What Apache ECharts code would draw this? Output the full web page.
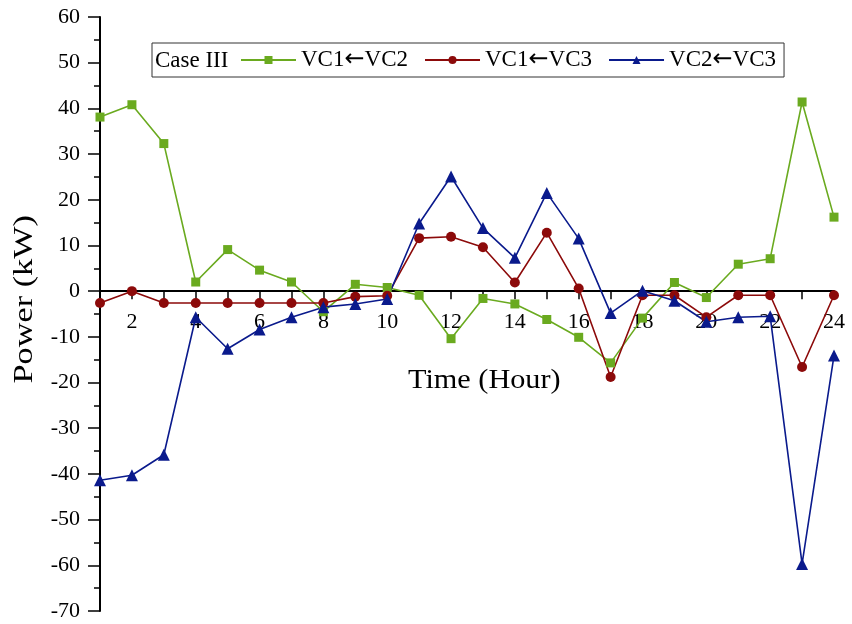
<!DOCTYPE html>
<html>
<head>
<meta charset="utf-8">
<script src="https://cdn.jsdelivr.net/npm/echarts@6/dist/echarts.min.js"></script>
<style>html,body{margin:0;padding:0;background:#fff}#c{width:852px;height:624px}</style>
</head>
<body>
<div id="c"></div>
<script>
const hours = ['1','2','3','4','5','6','7','8','9','10','11','12','13','14','15','16','17','18','19','20','21','22','23','24'];
const vc1FromVc2 = [38.1, 40.8, 32.3, 2.0, 9.1, 4.6, 2.0, -4.5, 1.5, 0.8, -0.9, -10.4, -1.6, -2.8, -6.2, -10.1, -15.7, -5.9, 1.9, -1.4, 5.9, 7.1, 41.4, 16.2];
const vc1FromVc3 = [-2.6, 0.0, -2.6, -2.6, -2.6, -2.6, -2.6, -2.6, -1.2, -1.0, 11.6, 11.9, 9.6, 1.9, 12.8, 0.6, -18.8, -0.9, -0.9, -5.7, -0.9, -0.9, -16.6, -0.9];
const vc2FromVc3 = [-41.4, -40.3, -35.8, -5.7, -12.6, -8.4, -5.7, -3.5, -2.8, -1.7, 14.8, 25.1, 13.8, 7.3, 21.5, 11.5, -4.8, 0.1, -2.1, -6.7, -5.7, -5.5, -59.7, -14.1];
const seriesNames = ['VC1\u2190VC2', 'VC1\u2190VC3', 'VC2\u2190VC3'];
const legendTitle = 'Case III';
const xTitle = 'Time (Hour)';
const yTitle = 'Power (kW)';
const yMin = -70, yMax = 60, yStep = 10;

const FONT = "'Liberation Serif', 'Times New Roman', serif";
const colors = ['#6aaa1f', '#8c0a0a', '#0a1a8c'];
const GRID_TOP = 17, GRID_BOTTOM = 13, H = 624;
const plotH = H - GRID_TOP - GRID_BOTTOM;
// distance from the bottom of the grid up to the zero line (layout only)
const zeroOffset = -plotH * (0 - yMin) / (yMax - yMin);

const chart = echarts.init(document.getElementById('c'));
const mk = (name, data, color, symbol, size) => ({
  name, type: 'line', data, symbol, symbolSize: size,
  itemStyle: { color }, lineStyle: { color, width: 1.6 },
  showSymbol: true, z: 3
});
chart.setOption({
  animation: false,
  backgroundColor: '#fff',
  color: colors,
  grid: { left: 100, right: 18, top: GRID_TOP, bottom: GRID_BOTTOM, containLabel: false, outerBoundsMode: 'none' },
  legend: {
    left: 152, top: 43,
    padding: [5, 8, 5, 88],
    borderColor: '#333', borderWidth: 1,
    itemWidth: 55, itemHeight: 10, itemGap: 16,
    formatter: n => { const p = n.split('\u2190'); return p[0] + '{a|\u2190}' + p[1]; },
    textStyle: {
      fontFamily: FONT, fontSize: 23, color: '#000',
      rich: { a: { fontFamily: "'DejaVu Sans'", fontSize: 24, color: '#000' } }
    },
    data: seriesNames
  },
  graphic: [
    { type: 'text', left: 155, top: 49,
      style: { text: legendTitle, font: "23px 'Liberation Serif'", fill: '#000' } },
    { type: 'text', left: 408, top: 367, scaleX: 1.12,
      style: { text: xTitle, font: "27px 'Liberation Serif'", fill: '#000' } },
    { type: 'text', left: 11, top: 215, rotation: Math.PI / 2, scaleX: 1.27,
      style: { text: yTitle, font: "27px 'Liberation Serif'", fill: '#000' } }
  ],
  xAxis: {
    type: 'category', data: hours, boundaryGap: false,
    offset: zeroOffset,
    axisLine: { onZero: false, lineStyle: { color: '#000', width: 2 } },
    axisTick: { show: true, interval: 0, length: 8, lineStyle: { color: '#000', width: 1.5 } },
    axisLabel: {
      interval: (i, v) => (+v) % 2 === 0,
      margin: 20, fontFamily: FONT, fontSize: 22, color: '#000'
    },
    splitLine: { show: false }
  },
  yAxis: {
    type: 'value', min: yMin, max: yMax, interval: yStep,
    axisLine: { show: true, onZero: false, lineStyle: { color: '#000', width: 2 } },
    axisTick: { show: true, length: 12, lineStyle: { color: '#000', width: 1.5 } },
    minorTick: { show: true, splitNumber: 2, length: 6, lineStyle: { color: '#000', width: 1.5 } },
    axisLabel: { margin: 20, fontFamily: FONT, fontSize: 22, color: '#000' },
    splitLine: { show: false }
  },
  series: [
    mk(seriesNames[0], vc1FromVc2, colors[0], 'rect', 9),
    mk(seriesNames[1], vc1FromVc3, colors[1], 'circle', 10),
    mk(seriesNames[2], vc2FromVc3, colors[2], 'triangle', 12)
  ]
});
</script>
</body>
</html>
